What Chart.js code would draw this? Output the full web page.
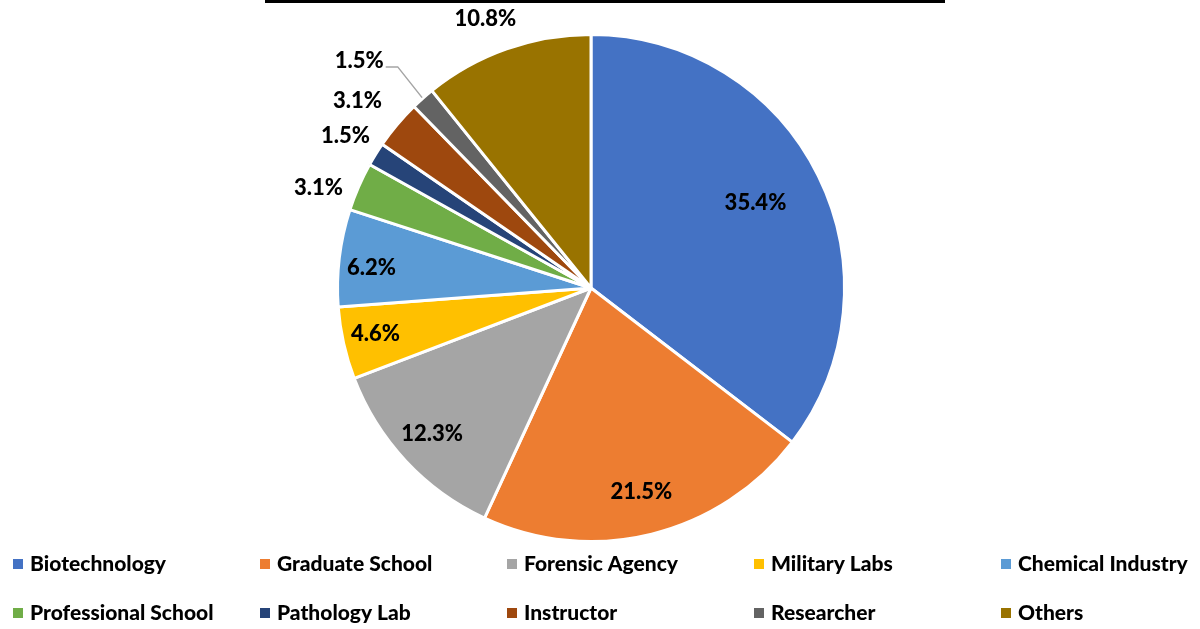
<!DOCTYPE html>
<html>
<head>
<meta charset="utf-8">
<script src="https://cdn.jsdelivr.net/npm/chart.js@4"></script>
<style>
  html, body { margin: 0; padding: 0; background: #fff; }
  #wrap { width: 1200px; height: 629px; position: relative; }
</style>
</head>
<body>
<div id="wrap"><canvas id="chart"></canvas></div>
<script>
// data
const categories = ['Biotechnology', 'Graduate School', 'Forensic Agency', 'Military Labs', 'Chemical Industry',
  'Professional School', 'Pathology Lab', 'Instructor', 'Researcher', 'Others'];
const shares = [35.4, 21.5, 12.3, 4.6, 6.2, 3.1, 1.5, 3.1, 1.5, 10.8];
const sliceColors = ['#4472C4', '#ED7D31', '#A5A5A5', '#FFC000', '#5B9BD5',
  '#70AD47', '#264478', '#9E480E', '#636363', '#997300'];

// label placement: [radius factor, angle shift in degrees]
const labelPlace = [[0.73, -1], [0.83, 0], [0.85, 0.5], [0.87, 0.5], [0.87, -1.5],
  [1.145, -3.5], [1.14, 0], [1.18, -1.5], [1.28, -4], [1.14, -2]];
const leaderLine = [false, false, false, false, false, false, false, false, true, false];

const FONT = 'Lato, "Open Sans", sans-serif';

const decorPlugin = {
  id: 'decor',
  afterDraw(chart) {
    const ctx = chart.ctx;
    const meta = chart.getDatasetMeta(0);
    ctx.save();
    // top rule
    ctx.fillStyle = '#000';
    ctx.fillRect(265, 0, 680, 3);

    // slice labels
    ctx.font = '900 22px ' + FONT;
    ctx.textAlign = 'center';
    ctx.textBaseline = 'middle';
    meta.data.forEach((arc, i) => {
      const p = arc.getProps(['x', 'y', 'startAngle', 'endAngle', 'outerRadius'], true);
      const mid = (p.startAngle + p.endAngle) / 2;
      const a = mid + labelPlace[i][1] * Math.PI / 180;
      const r = p.outerRadius * labelPlace[i][0];
      const lx = p.x + Math.cos(a) * r;
      const ly = p.y + Math.sin(a) * r;
      const txt = shares[i].toFixed(1) + '%';
      if (leaderLine[i]) {
        const w = ctx.measureText(txt).width;
        const ex = p.x + Math.cos(mid) * (p.outerRadius + 1);
        const ey = p.y + Math.sin(mid) * (p.outerRadius + 1);
        ctx.strokeStyle = '#A5A5A5';
        ctx.lineWidth = 1.5;
        ctx.beginPath();
        ctx.moveTo(ex, ey);
        ctx.lineTo(lx + w / 2 + 14, ly + 6);
        ctx.lineTo(lx + w / 2 + 2, ly + 6);
        ctx.stroke();
      }
      ctx.fillStyle = '#000';
      ctx.fillText(txt, lx, ly);
    });

    // legend, 5 columns x 2 rows
    ctx.font = '900 21px ' + FONT;
    ctx.textAlign = 'left';
    ctx.textBaseline = 'middle';
    categories.forEach((name, i) => {
      const col = i % 5, row = Math.floor(i / 5);
      const x = 13 + col * 247;
      const y = 564 + row * 49;
      ctx.fillStyle = sliceColors[i];
      ctx.fillRect(x, y - 5, 10, 10);
      ctx.fillStyle = '#000';
      ctx.fillText(name, x + 17, y);
    });
    ctx.restore();
  }
};

new Chart(document.getElementById('chart'), {
  type: 'pie',
  data: {
    labels: categories,
    datasets: [{
      data: shares,
      backgroundColor: sliceColors,
      borderColor: '#fff',
      borderWidth: 3
    }]
  },
  options: {
    responsive: true,
    maintainAspectRatio: false,
    animation: false,
    layout: { padding: { top: 33, bottom: 86, left: 0, right: 18 } },
    plugins: {
      legend: { display: false },
      tooltip: { enabled: false }
    }
  },
  plugins: [decorPlugin]
});
</script>
</body>
</html>
